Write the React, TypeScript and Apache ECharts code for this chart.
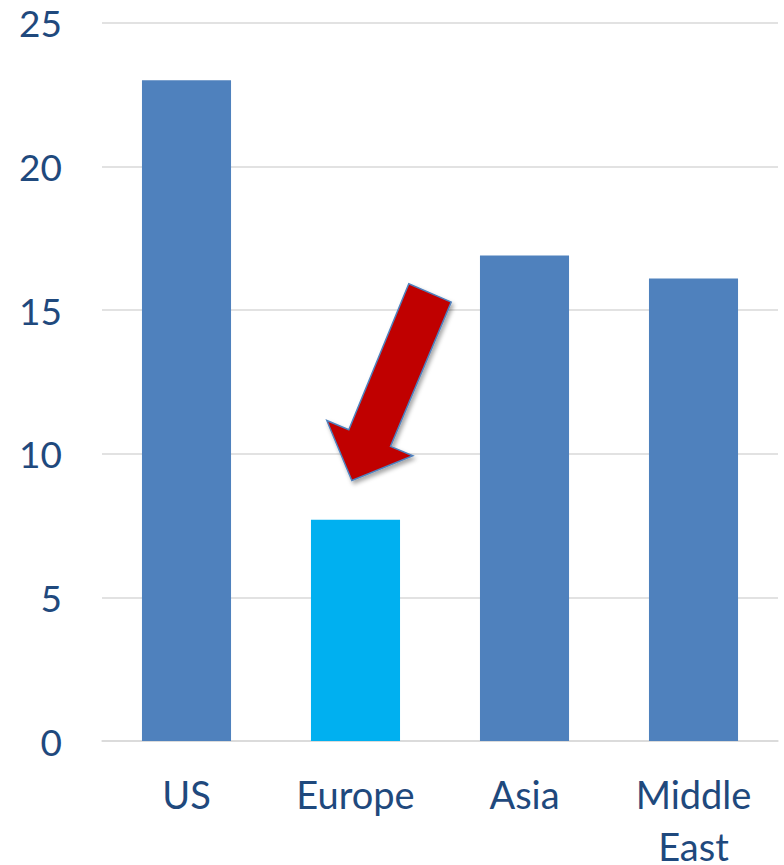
import React, { useEffect, useRef } from "react";
import * as echarts from "echarts";

const categories = ["US", "Europe", "Asia", "Middle\nEast"];
const values = [23, 7.7, 16.9, 16.1];
const barColors = ["#4F81BD", "#00B0F0", "#4F81BD", "#4F81BD"];
const yTicks = { min: 0, max: 25, interval: 5 };

// arrow outline, relative to the tip (pixels)
const arrowShape: [number, number][] = [
  [0, 0],
  [-25, -60],
  [-3, -50.7],
  [57, -196.7],
  [99.4, -178.4],
  [38.7, -34],
  [61, -24.7],
];

export default function App() {
  const ref = useRef<HTMLDivElement>(null);
  useEffect(() => {
    if (!ref.current) return;
    const chart = echarts.init(ref.current, null, { renderer: "svg" });
    const font = "Lato, 'Noto Sans', sans-serif";
    chart.setOption({
      animation: false,
      grid: {
        left: 102,
        right: 6,
        top: 22.7,
        bottom: 124,
        containLabel: false,
        outerBoundsMode: "none",
      },
      xAxis: {
        type: "category",
        data: categories,
        axisLine: { show: true, lineStyle: { color: "#D9D9D9", width: 1.5 } },
        axisTick: { show: false },
        axisLabel: {
          color: "#1F497D",
          fontSize: 38,
          fontFamily: font,
          margin: 27,
          lineHeight: 52,
          interval: 0,
        },
      },
      yAxis: {
        type: "value",
        min: yTicks.min,
        max: yTicks.max,
        interval: yTicks.interval,
        axisLine: { show: false },
        axisTick: { show: false },
        splitLine: { lineStyle: { color: "#D9D9D9", width: 1.5 } },
        axisLabel: {
          color: "#1F497D",
          fontSize: 37,
          fontFamily: font,
          margin: 40,
        },
      },
      series: [
        {
          type: "bar",
          barWidth: "52.7%",
          data: values.map((v, i) => ({ value: v, itemStyle: { color: barColors[i] } })),
        },
      ],
    });
    const anchor = chart.convertToPixel({ gridIndex: 0 }, [1, values[1]]) as number[];
    const tipX = anchor[0] - 3.7;
    const tipY = anchor[1] - 39.3;
    chart.setOption({
      graphic: [
        {
          type: "polygon",
          shape: { points: arrowShape.map(([dx, dy]) => [tipX + dx, tipY + dy]) },
          style: {
            fill: "#C00000",
            stroke: "#4F81BD",
            lineWidth: 1.5,
            shadowBlur: 4,
            shadowOffsetX: 2,
            shadowOffsetY: 3,
            shadowColor: "rgba(0,0,0,0.35)",
          },
          z: 100,
        },
      ],
    });
    return () => chart.dispose();
  }, []);
  return (
    <div
      ref={ref}
      style={{ position: "fixed", left: 0, top: 0, width: 784, height: 865, background: "#fff" }}
    />
  );
}
